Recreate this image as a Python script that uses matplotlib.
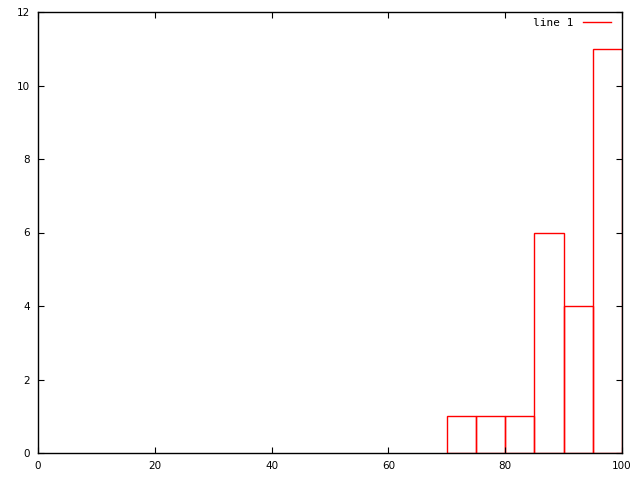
import matplotlib
matplotlib.use("Agg")
import matplotlib.pyplot as plt
from matplotlib.lines import Line2D

bin_left = [0, 5, 10, 15, 20, 25, 30, 35, 40, 45, 50, 55, 60, 65, 70, 75, 80, 85, 90, 95]
counts = [0, 0, 0, 0, 0, 0, 0, 0, 0, 0, 0, 0, 0, 0, 1, 1, 1, 6, 4, 11]
bin_width = 5
xticks = [0, 20, 40, 60, 80, 100]
yticks = [0, 2, 4, 6, 8, 10, 12]

fig = plt.figure(figsize=(6.4, 4.8), dpi=100)
ax = fig.add_axes([38/640, 1-453/480, (622-38)/640, (453-12)/480])
nz = [(l, c) for l, c in zip(bin_left, counts) if c > 0]
ax.bar([l for l, c in nz], [c for l, c in nz], width=bin_width, align='edge',
       fill=False, edgecolor='red', linewidth=1.0)
ax.set_xlim(0, 100)
ax.set_ylim(0, 12)
ax.set_xticks(xticks)
ax.set_yticks(yticks)
ax.tick_params(direction='in', top=True, right=True, length=4, labelsize=7.5, pad=6)
for s in ax.spines.values():
    s.set_linewidth(1.0)
    s.set_color('black')
    s.set_zorder(10)
handle = Line2D([], [], color='red', linewidth=1.0)
leg = ax.legend([handle], ['line 1'], loc='upper right', frameon=False,
                prop={'family': 'DejaVu Sans Mono', 'size': 8},
                handlelength=2.5, markerfirst=False,
                bbox_to_anchor=(0.988, 0.997), borderaxespad=0.0)
fig.savefig('out.png', dpi=100)
